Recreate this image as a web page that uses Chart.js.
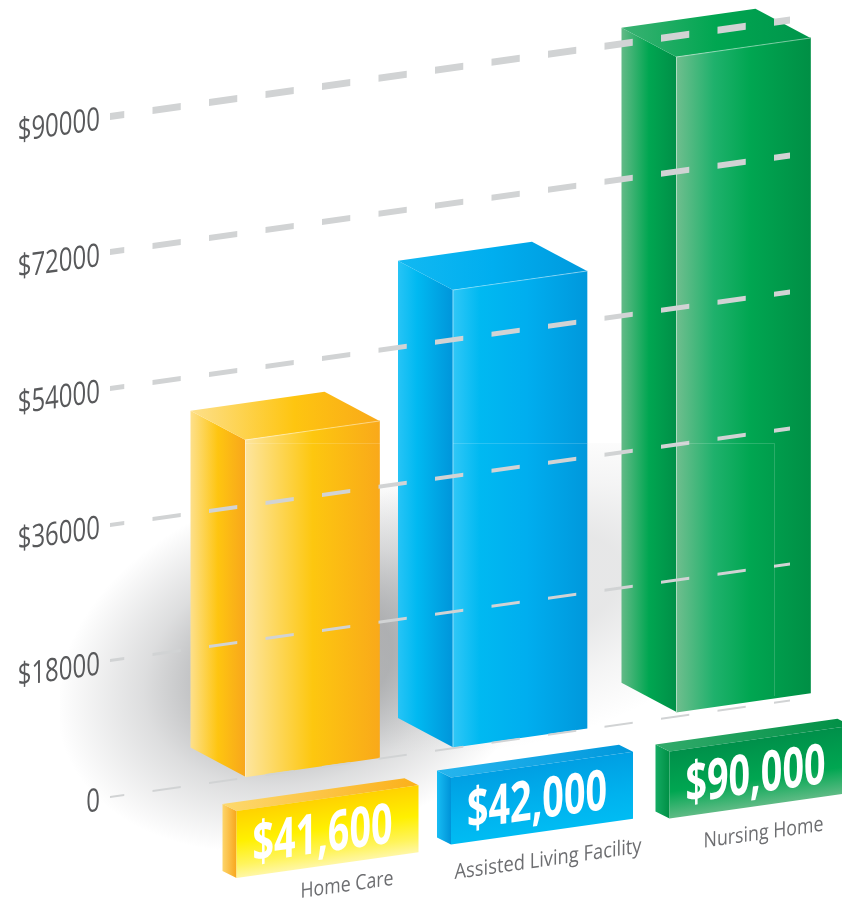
<!DOCTYPE html>
<html>
<head>
<meta charset="utf-8">
<title>Cost of care</title>
<script src="https://cdn.jsdelivr.net/npm/chart.js@4"></script>
<style>
  html, body { margin: 0; padding: 0; background: #fff; overflow: hidden; }
  canvas { display: block; }
</style>
</head>
<body>
<canvas id="careChart" width="842" height="898"></canvas>
<script>
// ---------- DATA ----------
const categories = ["Home Care", "Assisted Living Facility", "Nursing Home"];
const valueLabels = ["$41,600", "$42,000", "$90,000"];
// bar extents as drawn against the axis (the drawn heights differ from the printed labels)
const barLows = [0, 0, 600];
const barHighs = [44640, 60560, 87170];
const yTickValues = [0, 18000, 36000, 54000, 72000, 90000];
const yTickLabels = ["0", "$18000", "$36000", "$54000", "$72000", "$90000"];

// ---------- LOOK ----------
const SKEW = 0.142;
const DEPTH_X = -55, DEPTH_Y = -37;
const BAR_W = 134;
const barNudge = [0, -8, 0];
const gridWidths = [2, 3, 4, 5, 6, 7];

const badgeDx = [-9, -2, -7];
const badgeDy = [32, 29, 34];
const badgeW = 182, badgeH = 67;
const labelDx = [34.5, 28, 20];
const labelDy = [122, 125, 129];
const labelMaxW = [93, 187, 120];

const frontStops = [
  [[0, "#fde59f"], [0.5, "#fdc70f"], [1, "#f9a91a"]],
  [[0, "#30c7f7"], [0.2, "#00b9f1"], [0.55, "#00aeef"], [1, "#0098dc"]],
  [[0, "#6fbe8e"], [0.28, "#1fb16c"], [0.55, "#00a651"], [1, "#008f45"]]
];
const sideStops = [
  [[0, "#fde08c"], [0.5, "#fec510"], [1, "#f8a61c"]],
  [[0, "#27c4f6"], [0.35, "#00b9f1"], [1, "#0095da"]],
  [[0, "#63ba87"], [0.5, "#00a651"], [1, "#008f47"]]
];
const topStops = [
  [[0, "#fde08c"], [0.55, "#fec510"], [1, "#f9a91a"]],
  [[0, "#12b9f2"], [0.5, "#00aeef"], [1, "#0099dd"]],
  [[0, "#3bb273"], [0.5, "#00a651"], [1, "#00954b"]]
];
const badgeFront = [
  [[0, "#ffd200"], [0.45, "#fff000"], [0.8, "#fff45c"], [1, "#fff7a6"]],
  [[0, "#009fe3"], [0.6, "#00b2ee"], [1, "#00bcf3"]],
  [[0, "#00904a"], [0.6, "#00a651"], [1, "#5fbb85"]]
];
const badgeSide = [
  [[0, "#fdd56b"], [1, "#f8a61c"]],
  [[0, "#17bdf4"], [1, "#0093d8"]],
  [[0, "#14ab63"], [1, "#008f45"]]
];
const badgeTop = [
  [[0, "#fdd96e"], [1, "#fbb01a"]],
  [[0, "#27b5ee"], [1, "#0098dc"]],
  [[0, "#32ab6b"], [1, "#008f45"]]
];

function hGrad(ctx, x0, x1, stops) {
  const g = ctx.createLinearGradient(x0, 0, x1, 0);
  stops.forEach(s => g.addColorStop(s[0], s[1]));
  return g;
}

function vGrad(ctx, y0, y1, stops) {
  const g = ctx.createLinearGradient(0, y0, 0, y1);
  stops.forEach(s => g.addColorStop(s[0], s[1]));
  return g;
}

function poly(ctx, pts, fill) {
  ctx.beginPath();
  pts.forEach((p, i) => i ? ctx.lineTo(p[0], p[1]) : ctx.moveTo(p[0], p[1]));
  ctx.closePath();
  ctx.fillStyle = fill;
  ctx.fill();
}

function softBlob(ctx, cx, cy, rx, ry, rot, rgb, alpha) {
  ctx.save();
  ctx.translate(cx, cy);
  ctx.rotate(rot);
  ctx.scale(rx, ry);
  const g = ctx.createRadialGradient(0, 0, 0, 0, 0, 1);
  g.addColorStop(0, "rgba(" + rgb + "," + alpha + ")");
  g.addColorStop(0.35, "rgba(" + rgb + "," + alpha + ")");
  g.addColorStop(0.65, "rgba(" + rgb + "," + alpha * 0.45 + ")");
  g.addColorStop(1, "rgba(" + rgb + ",0)");
  ctx.fillStyle = g;
  ctx.beginPath();
  ctx.arc(0, 0, 1, 0, Math.PI * 2);
  ctx.fill();
  ctx.restore();
}

// ---------- 3D LOOK PLUGIN ----------
const boxPlugin = {
  id: "box3d",
  afterDatasetsUpdate(chart) {
    chart.getDatasetMeta(0).data.forEach((bar, i) => { bar.x += barNudge[i]; });
  },
  beforeDraw(chart) {
    const ctx = chart.ctx;
    ctx.save();
    ctx.fillStyle = "#fff";
    ctx.fillRect(0, 0, chart.width, chart.height);
    // ground shadow, cut off by a flat box like the source artwork
    ctx.save();
    ctx.beginPath();
    ctx.rect(60, 443, 715, 415);
    ctx.clip();
    softBlob(ctx, 530, 590, 270, 150, -0.3, "120,122,125", 0.18);
    softBlob(ctx, 305, 665, 255, 178, -0.32, "130,132,135", 0.6);
    ctx.restore();
    ctx.restore();
    // whole chart leans along the floor
    ctx.save();
    ctx.transform(1, -SKEW, 0, 1, 0, SKEW * chart.chartArea.left);
  },
  beforeDatasetsDraw(chart) {
    const ctx = chart.ctx;
    chart.getDatasetMeta(0).data.forEach((bar, i) => {
      const p = bar.getProps(["x", "y", "base"]);
      const x0 = p.x - BAR_W / 2, x1 = p.x + BAR_W / 2;
      const backX = x0 + DEPTH_X;
      poly(ctx, [[x0, p.y], [backX, p.y + DEPTH_Y], [backX, p.base + DEPTH_Y], [x0, p.base]],
        hGrad(ctx, backX, x0, sideStops[i]));
      poly(ctx, [[x0, p.y], [x1, p.y], [x1 + DEPTH_X, p.y + DEPTH_Y], [backX, p.y + DEPTH_Y]],
        hGrad(ctx, backX, x1, topStops[i]));
    });
  },
  afterDatasetsDraw(chart) {
    const ctx = chart.ctx;
    const yScale = chart.scales.y;
    const base = yScale.getPixelForValue(0);
    ctx.textBaseline = "middle";

    // y axis labels: condensed like the source, so squeezed at draw time
    ctx.fillStyle = "#58595b";
    ctx.font = "32px 'Open Sans', sans-serif";
    ctx.textAlign = "right";
    yTickValues.forEach((v, i) => {
      const natural = ctx.measureText(yTickLabels[i]).width;
      ctx.fillText(yTickLabels[i], yScale.left + 100, yScale.getPixelForValue(v) + 3, natural * 0.75);
    });

    chart.getDatasetMeta(0).data.forEach((bar, i) => {
      const p = bar.getProps(["x", "y", "base"]);
      const x0 = p.x - BAR_W / 2, x1 = p.x + BAR_W / 2;

      // light edges on the front face
      ctx.strokeStyle = "rgba(255,255,255,0.45)";
      ctx.lineWidth = 1;
      ctx.beginPath();
      ctx.moveTo(x1, p.y); ctx.lineTo(x0, p.y); ctx.lineTo(x0, p.base);
      ctx.stroke();

      // value badge
      const bx = x0 + badgeDx[i], by = base + badgeDy[i];
      const tx = bx - 14, ty = -9;
      poly(ctx, [[bx, by], [tx, by + ty], [tx, by + ty + badgeH], [bx, by + badgeH]],
        hGrad(ctx, tx, bx, badgeSide[i]));
      poly(ctx, [[bx, by], [bx + badgeW, by], [bx + badgeW - 14, by + ty], [tx, by + ty]],
        hGrad(ctx, tx, bx + badgeW, badgeTop[i]));
      poly(ctx, [[bx, by], [bx + badgeW, by], [bx + badgeW, by + badgeH], [bx, by + badgeH]],
        vGrad(ctx, by, by + badgeH, badgeFront[i]));

      ctx.fillStyle = "#fff";
      ctx.font = "bold 56px 'Open Sans', sans-serif";
      ctx.textAlign = "center";
      ctx.fillText(valueLabels[i], bx + 86, by + badgeH / 2 + 4, 140);

      // category name
      ctx.fillStyle = "#6d6e71";
      ctx.font = "21px 'Open Sans', sans-serif";
      ctx.fillText(categories[i], p.x + labelDx[i], base + labelDy[i], labelMaxW[i]);
    });
  },
  afterDraw(chart) {
    const ctx = chart.ctx;
    ctx.restore();
    // faint flat edge of the shadow box showing over the bars
    ctx.save();
    ctx.strokeStyle = "rgba(255,255,255,0.16)";
    ctx.lineWidth = 1;
    ctx.beginPath();
    ctx.moveTo(245, 443.5); ctx.lineTo(380, 443.5);
    ctx.moveTo(453, 443.5); ctx.lineTo(587, 443.5);
    ctx.moveTo(676, 443.5); ctx.lineTo(774.5, 443.5); ctx.lineTo(774.5, 696);
    ctx.stroke();
    ctx.restore();
  }
};

// ---------- CHART ----------
new Chart(document.getElementById("careChart"), {
  type: "bar",
  data: {
    datasets: [{
      data: categories.map((c, i) => ({ x: i, y: [barLows[i], barHighs[i]] })),
      barThickness: BAR_W,
      borderWidth: 0,
      clip: false,
      backgroundColor(c) {
        const center = c.chart.scales.x.getPixelForValue(c.dataIndex) + barNudge[c.dataIndex];
        if (!Number.isFinite(center)) return "#00aeef";
        return hGrad(c.chart.ctx, center - BAR_W / 2, center + BAR_W / 2, frontStops[c.dataIndex]);
      }
    }]
  },
  options: {
    responsive: false,
    animation: false,
    layout: { padding: { top: 116, left: 0, right: 52, bottom: 101 } },
    plugins: { legend: { display: false }, tooltip: { enabled: false } },
    scales: {
      x: {
        type: "linear",
        display: false,
        offset: false,
        min: -0.9397,
        max: 2.2158
      },
      y: {
        min: 0,
        max: 90000,
        afterBuildTicks(scale) { scale.ticks = yTickValues.map(v => ({ value: v })); },
        afterFit(scale) { scale.width = 110; scale.paddingTop = 0; scale.paddingBottom = 0; },
        border: { display: false, dash: [28.25, 28.25], dashOffset: 14 },
        grid: {
          z: 1,
          drawTicks: false,
          color: "#d1d3d4",
          lineWidth: c => gridWidths[c.index]
        },
        ticks: { display: false }
      }
    }
  },
  plugins: [boxPlugin]
});
</script>
</body>
</html>
